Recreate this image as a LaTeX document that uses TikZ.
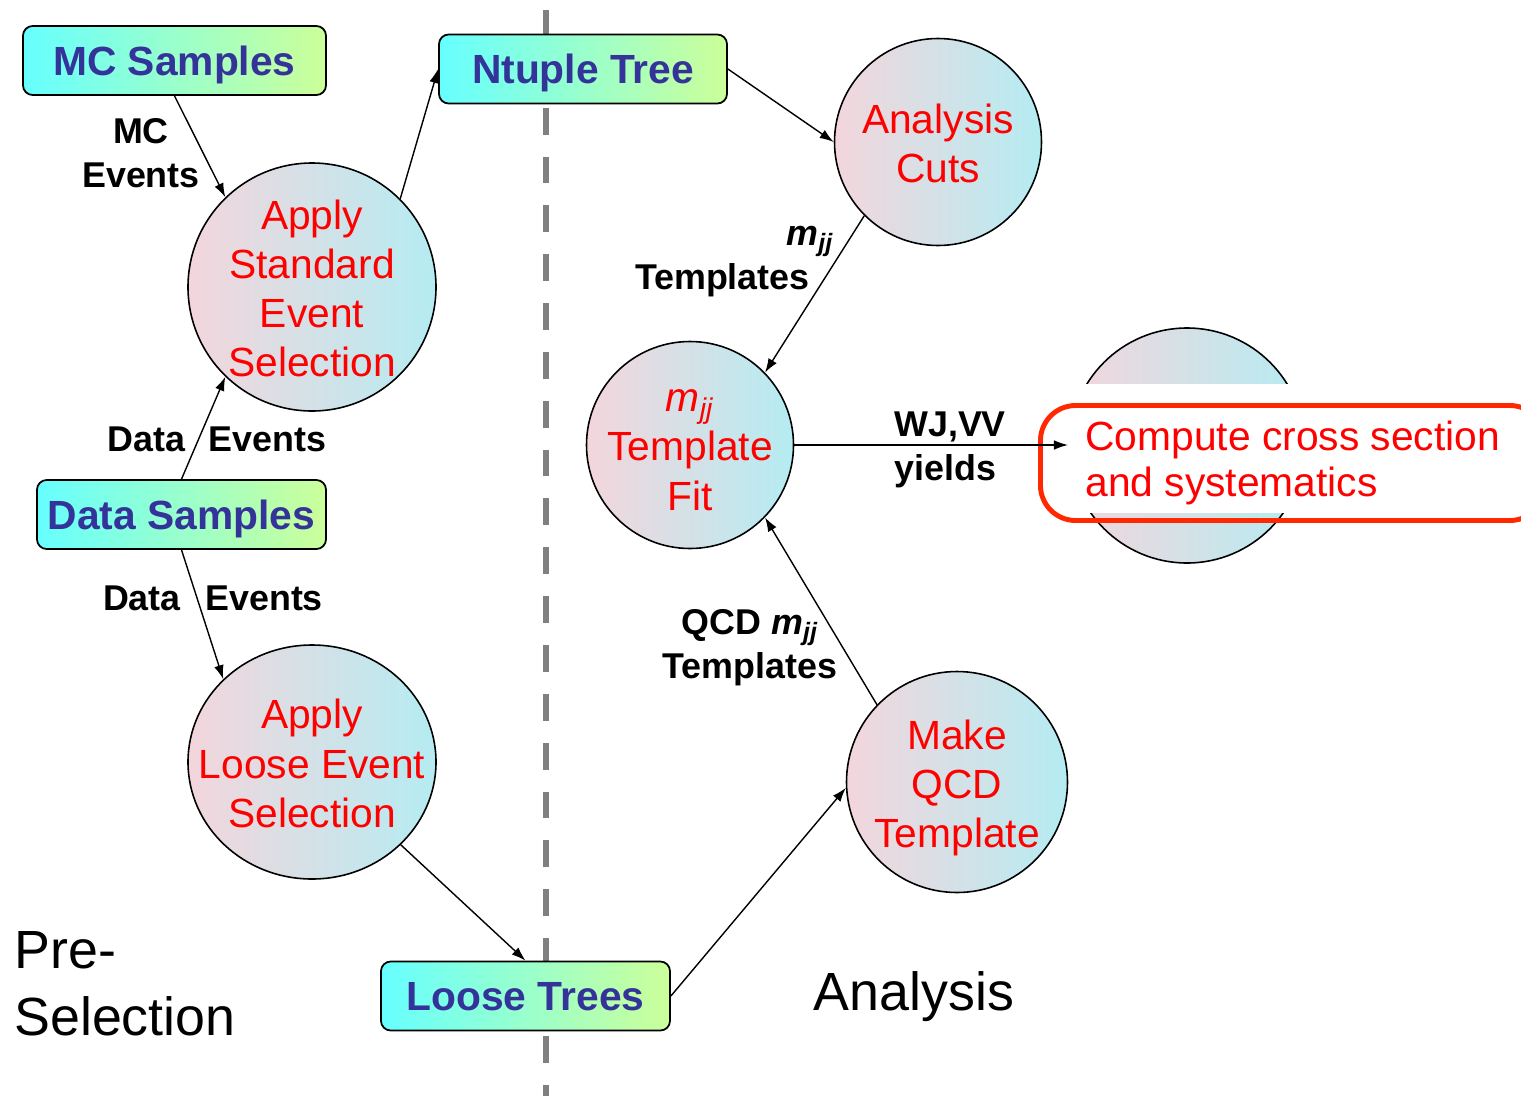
\documentclass[tikz,border=0pt]{standalone}
\usepackage{fontspec}
\setmainfont{Liberation Sans}
\usetikzlibrary{arrows.meta}
\usetikzlibrary{shapes.geometric}
\definecolor{boxL}{RGB}{102,255,255}
\definecolor{boxR}{RGB}{204,255,153}
\definecolor{boxtxt}{RGB}{51,51,153}
\definecolor{blobL}{RGB}{243,214,220}
\definecolor{blobR}{RGB}{180,236,242}
\definecolor{resred}{RGB}{255,40,0}
\newcommand{\pxu}{0.02cm}
\newcommand{\mjj}{\textit{m}\textsubscript{\textit{jj}}}

\begin{document}
\begin{tikzpicture}[x=0.02cm,y=-0.02cm,>={Latex[length=8pt,width=5.5pt]},
        sample/.style={draw,line width=1pt,rounded corners=5.5pt,left color=boxL,right color=boxR,
            text=boxtxt,font=\fontsize{23.2}{27.8}\selectfont\bfseries,minimum height=69*\pxu,inner sep=0pt,
            text height=16.6pt,text depth=0pt},
        blob/.style={draw,ellipse,line width=0.9pt,left color=blobL,right color=blobR,inner sep=0pt},
        blobtext/.style={text=red,align=center,inner sep=0pt,yshift=-1.5*\pxu,font=\fontsize{23.2}{28}\selectfont},
        result/.style={draw=resred,line width=2.8pt,rounded corners=20pt,text=red,align=left,
            minimum height=115*\pxu,inner xsep=45*\pxu,font=\fontsize{23.2}{26.6}\selectfont},
        flow/.style={inner sep=0pt,font=\fontsize{20.4}{25}\selectfont\bfseries},
        big/.style={inner sep=0pt,font=\fontsize{30.6}{38}\selectfont}]
        \clip (0,0) rectangle (1521,1096);
        \draw[gray,line width=3.4pt,dash pattern=on 15.3pt off 12.5pt](546,10)--(546,1096);
        % boxes
        \node[sample,minimum width=303*\pxu](mc)at(174.5,60.5){MC Samples};
        \node[sample,minimum width=288*\pxu](nt)at(583,69){Ntuple Tree};
        \node[sample,minimum width=289*\pxu](data)at(181.5,514.5){Data Samples};
        \node[sample,minimum width=289*\pxu](lt)at(525.5,996){Loose Trees};
        % steps
        \node[blob,minimum size=248*\pxu](std)at(312,287){};
        \node[blobtext](stdT)at(std){Apply\\Standard\\Event\\Selection};
        \node[blob,minimum width=248*\pxu,minimum height=234*\pxu](loose)at(312,762){};
        \node[blobtext](looseT)at(loose){Apply\\Loose Event\\Selection};
        \node[blob,minimum size=207*\pxu](cuts)at(938,142){};
        \node[blobtext](cutsT)at(cuts){Analysis\\Cuts};
        \node[blob,minimum size=207*\pxu](fit)at(690,445){};
        \node[blobtext,yshift=-3.5*\pxu](fitT)at(fit){\mjj\\Template\\Fit};
        \node[blob,minimum size=221*\pxu](qcd)at(957,782){};
        \node[blobtext,yshift=-4.5*\pxu](qcdT)at(qcd){Make\\QCD\\Template};
        \node[blob,minimum size=235*\pxu](hid)at(1187,445.5){};
        \fill[white](1060,383.5)rectangle(1320,513);
        \node[result,anchor=west](res)at(1038,463){Compute cross section\\and systematics};
        \coordinate(tip)at(1068,445);
        % flow
        \draw[->,line width=0.8pt](mc.south)--(std.134);
        \draw[->,line width=0.8pt](data.north)--(std.226);
        \draw[->,line width=0.8pt](std.45)--(nt.west);
        \draw[->,line width=0.8pt](nt.east)--(cuts.west);
        \draw[->,line width=0.8pt](cuts.225)--(fit.44);
        \draw[->,line width=0.8pt](data.south)--(loose.137);
        \draw[->,line width=0.8pt](loose.317)--(lt.north);
        \draw[->,line width=0.8pt](lt.east)--(qcd.183);
        \draw[->,line width=0.8pt](qcd.136)--(fit.316);
        \draw[->,line width=0.8pt](fit.east)--(tip);
        \node[flow,align=center](mcev)at(141,153){MC\\Events};
        \node[flow](dataev)at(217,439){Data\hspace{13pt}Events};
        \node[flow](dataev2)at(213,598){Data\hspace{14pt}Events};
        \node[flow,anchor=east,align=right](tmpl)at(810,262){\mjj\hspace*{-13.6pt}\\Templates};
        \node[flow,align=center](qcdtmpl)at(750,648){QCD \mjj\\Templates};
        \node[flow,anchor=west,align=left](yields)at(894,450){WJ,VV\\yields};
        \node[big,anchor=west,align=left](pre)at(14,984){Pre-\\Selection};
        \node[big](ana)at(914,997){Analysis};
    \end{tikzpicture}
\end{document}
